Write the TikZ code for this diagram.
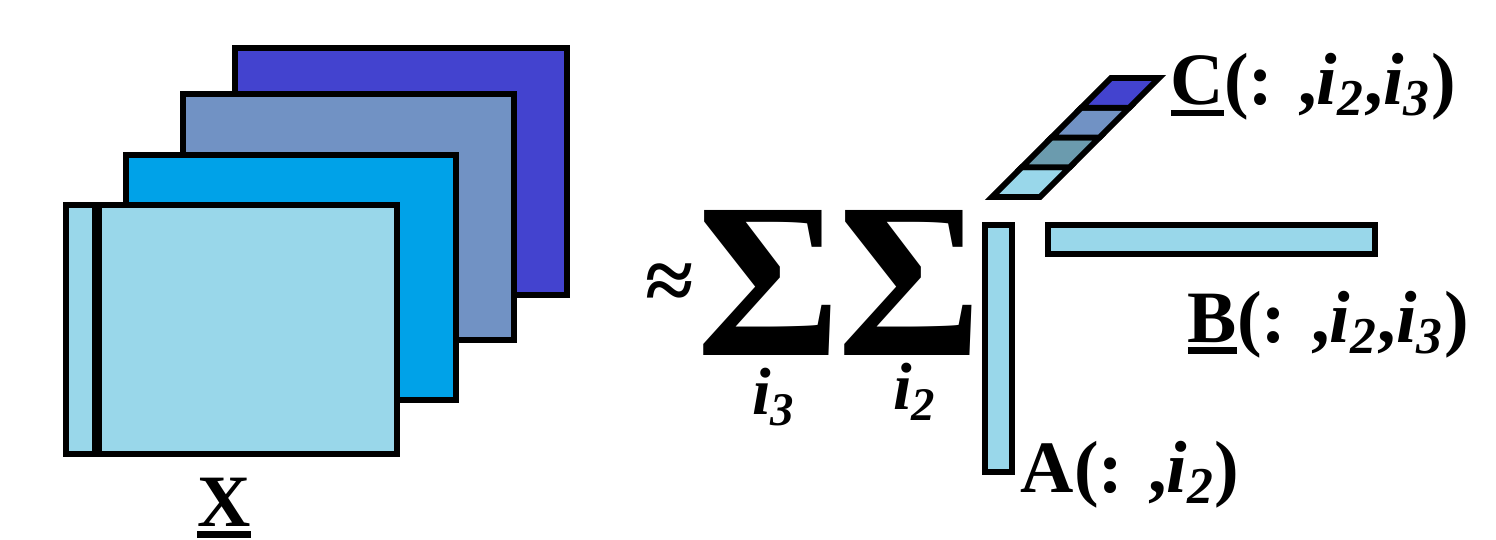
\documentclass[tikz,border=0pt]{standalone}
\usepackage{fontspec}
\setmainfont{Liberation Serif}
\usepackage{xcolor}
\usepackage{tikz}

\definecolor{sliceone}{HTML}{99D7EA}
\definecolor{slicetwo}{HTML}{00A2E8}
\definecolor{slicethree}{HTML}{7192C4}
\definecolor{slicefour}{HTML}{4343CF}
\definecolor{cteal}{HTML}{6B9BAE}

\newcommand{\ubar}[1]{\vtop{\hbox{#1}\kern1.2pt\hrule height 1.8pt}}
\newcommand{\idx}[1]{\textit{i}\textsubscript{\textit{#1}}}

\begin{document}
\begin{tikzpicture}[x=0.01cm, y=-0.01cm, line width=1.7pt,
  lbl/.style={inner sep=0pt, font=\fontsize{21}{23}\selectfont\bfseries},
  sublbl/.style={inner sep=0pt, anchor=base, font=\fontsize{19}{21}\selectfont\bfseries},
  bigsum/.style={inner sep=0pt, font=\fontsize{63}{63}\selectfont\bfseries}]
  \useasboundingbox (0,0) rectangle (1496,540);
  % slices of X, back to front
  \fill[slicefour] (235,48) rectangle (567,295);
  \draw (235,48) rectangle (567,295);
  \fill[slicethree] (183,94) rectangle (514,340);
  \draw (183,94) rectangle (514,340);
  \fill[slicetwo] (126,155) rectangle (456,400);
  \draw (126,155) rectangle (456,400);
  \fill[sliceone] (66,205) rectangle (397,454);
  \draw (66,205) rectangle (397,454);
  \draw[line width=3pt] (97,205) -- (97,454);
  \node[lbl, anchor=base] (xlab) at (224,527) {\ubar{X}};
  % the sums
  \node[inner sep=0pt, font=\fontsize{25}{25}\selectfont\bfseries] (approx) at (670,287) {≈};
  \node[bigsum] (sumthree) at (769,283) {Σ};
  \node[bigsum] (sumtwo) at (910,283) {Σ};
  \node[sublbl] (subthree) at (774,415) {\idx{3}};
  \node[sublbl] (subtwo) at (915,410) {\idx{2}};
  % vectors a, b
  \fill[sliceone] (985,225) rectangle (1012,472);
  \draw (985,225) rectangle (1012,472);
  \fill[sliceone] (1048,225) rectangle (1375,254);
  \draw (1048,225) rectangle (1375,254);
  % fibre c
  \foreach \c [count=\k from 0] in {sliceone,cteal,slicethree,slicefour}
    \filldraw[fill=\c] ({992+29.75*\k},{197-29.75*\k}) -- ++(48,0) -- ++(29.75,-29.75) -- ++(-48,0) -- cycle;
  % labels
  \node[lbl, anchor=base west] (clab) at (1168,105) {\ubar{C}(: ,\idx{2},\idx{3})};
  \node[lbl, anchor=base west] (blab) at (1185,343) {\ubar{B}(: ,\idx{2},\idx{3})};
  \node[lbl, anchor=base west] (alab) at (1018,493) {A(: ,\idx{2})};
\end{tikzpicture}
\end{document}
